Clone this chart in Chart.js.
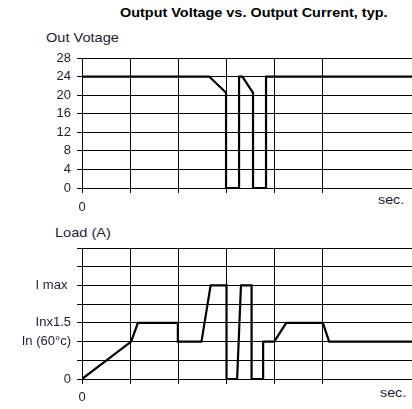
<!DOCTYPE html>
<html>
<head>
<meta charset="utf-8">
<script src="https://cdn.jsdelivr.net/npm/chart.js@4"></script>
<style>
  body { margin: 0; background: #fff; width: 412px; height: 409px; overflow: hidden; position: relative; }
  canvas { position: absolute; left: 0; }
  .txt { position: absolute; font-family: "Liberation Sans", Arial, sans-serif; line-height: 1; white-space: nowrap; transform-origin: left center; color: #1c1c36; }
</style>
</head>
<body>
<div class="txt" style="left:120px; top:6px; font-size:13px; font-weight:bold; color:#000; transform:scaleX(1.11)">Output Voltage vs. Output Current, typ.</div>
<div class="txt" style="left:46px; top:31px; font-size:13px; transform:scaleX(1.12)">Out Votage</div>
<div class="txt" style="left:378px; top:193px; font-size:13px; transform:scaleX(1.1)">sec.</div>
<div class="txt" style="left:55px; top:226px; font-size:13px; transform:scaleX(1.12)">Load (A)</div>
<div class="txt" style="left:380px; top:386px; font-size:13px; transform:scaleX(1.1)">sec.</div>

<canvas id="voltChart" width="412" height="215" style="top:0"></canvas>
<canvas id="loadChart" width="412" height="194" style="top:215px"></canvas>

<script>
// time axis (grid units), voltage trace
let voltTime   = [0, 2.64, 2.99, 2.99, 3.26, 3.26, 3.33, 3.55, 3.55, 3.82, 3.82, 6.85];
let voltValues = [24, 24, 20.5, 0, 0, 24, 24, 20.5, 0, 0, 24, 24];

// load trace (y in grid steps: 2 = In, 3 = In x1.5, 5 = I max)
let loadTime   = [0, 1.02, 1.16, 1.99, 1.99, 2.48, 2.67, 3.0, 3.0, 3.22, 3.30, 3.52, 3.52, 3.76, 3.76, 3.99, 4.24, 5.0, 5.13, 6.85];
let loadValues = [0, 2, 3, 3, 2, 2, 5, 5, 0, 0, 5, 5, 0, 0, 2, 2, 3, 3, 2, 2];

let loadTickLabels = { 0: '0', 2: 'In (60°c)', 3: 'Inx1.5', 5: 'I max ' };

let font = { family: '"Liberation Sans", Arial, sans-serif', size: 13 };
let tickColor = '#1c1c36';

let toPoints = (xs, ys) => xs.map((x, i) => ({ x: x, y: ys[i] }));

let makeChart = (id, points, yOpts, padTop, xHeight, xPad) => {
    const ctx = document.getElementById(id);

    const config = {
        type: 'line',
        data: {
            datasets: [{
                data: points,
                borderColor: '#000',
                borderWidth: 2.2,
                pointRadius: 0,
                tension: 0,
                fill: false
            }]
        },
        options: {
            responsive: false,
            animation: false,
            layout: { padding: { top: padTop, left: 0, right: 0, bottom: 0 } },
            plugins: { legend: { display: false }, tooltip: { enabled: false } },
            scales: {
                x: {
                    type: 'linear',
                    min: 0,
                    max: 6.85,
                    grid: { color: '#000', lineWidth: 1, tickLength: 5 },
                    border: { color: '#000', width: 1 },
                    ticks: {
                        stepSize: 1,
                        padding: xPad,
                        maxRotation: 0,
                        autoSkip: false,
                        color: tickColor,
                        font: font,
                        callback: (v) => v === 0 ? '0' : ''
                    },
                    afterBuildTicks: (scale) => {
                        scale.ticks = scale.ticks.filter(t => Number.isInteger(t.value));
                    },
                    afterFit: (scale) => { scale.height = xHeight; }
                },
                y: Object.assign({
                    grid: { color: '#000', lineWidth: 1, tickLength: 5 },
                    border: { color: '#000', width: 1 },
                    afterFit: (scale) => { scale.width = 82; }
                }, yOpts)
            }
        }
    };

    return new Chart(ctx, config);
}

makeChart('voltChart', toPoints(voltTime, voltValues), {
    min: 0,
    max: 28,
    ticks: { stepSize: 4, padding: 6, color: tickColor, font: font, autoSkip: false }
}, 58, 27, 7);

makeChart('loadChart', toPoints(loadTime, loadValues), {
    min: 0,
    max: 7,
    ticks: {
        stepSize: 1,
        padding: 6,
        color: tickColor,
        font: font,
        autoSkip: false,
        callback: (v) => loadTickLabels[v] || ''
    }
}, 33, 30, 6);
</script>
</body>
</html>
